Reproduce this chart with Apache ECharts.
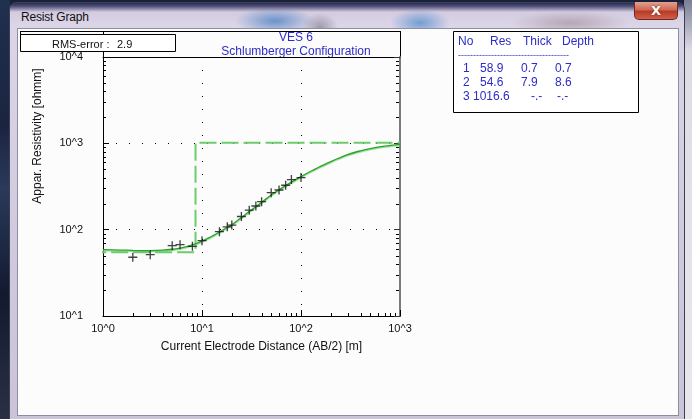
<!DOCTYPE html>
<html>
<head>
<meta charset="utf-8">
<script src="https://cdn.jsdelivr.net/npm/echarts@6/dist/echarts.min.js"></script>
<style>
  html, body { margin: 0; padding: 0; }
  body { width: 692px; height: 419px; overflow: hidden; position: relative;
         background: #18203a; font-family: "Liberation Sans", Arial, sans-serif; }
  #deskRight { position: absolute; left: 684px; top: 0; width: 8px; height: 419px;
               background: linear-gradient(#7a7f96, #dcdce4 12%, #e8e8ec); }
  #deskLeft { position: absolute; left: 0; top: 0; width: 10px; height: 419px;
              background: linear-gradient(#20304f, #1a2440 30%, #2a3a5a 45%, #121a30 70%, #2b2f45); }
  #win { position: absolute; left: 9px; top: 2px; width: 676px; height: 430px;
         border: 1px solid #3c3f52; border-radius: 7px 7px 0 0; box-sizing: border-box;
         background:
           radial-gradient(ellipse 40px 14px at 265px 18px, rgba(60,120,190,0.7), rgba(60,120,190,0) 100%),
           radial-gradient(ellipse 30px 14px at 410px 20px, rgba(60,130,200,0.65), rgba(60,130,200,0) 100%),
           radial-gradient(ellipse 60px 12px at 560px 20px, rgba(150,130,140,0.55), rgba(150,130,140,0) 100%),
           radial-gradient(ellipse 18px 14px at 310px 24px, rgba(90,80,100,0.45), rgba(90,80,100,0) 100%),
           linear-gradient(#2a2f52 0px, #4b4a74 3px, #d3cbe0 9px, #dcd5e7 22px, #d0c9dd 60%, #cbc4d8 100%); }
  #caption { position: absolute; left: 21px; top: 10px; font-size: 12px; color: #111;
             font-family: "Liberation Sans", Arial, sans-serif; letter-spacing: -0.2px; }
  #closeBtn { position: absolute; left: 634px; top: 2px; width: 44px; height: 18px;
              box-sizing: border-box; border: 1px solid #6e2a22; border-top: none;
              border-radius: 0 0 5px 5px;
              background: linear-gradient(#e4a090, #cf6a55 45%, #b93a25 55%, #d0604a);
              color: #fff; font: bold 13px "DejaVu Sans", sans-serif; text-align: center;
              line-height: 17px; text-shadow: 0 0 2px #5a1a12; }
  #client { position: absolute; left: 17px; top: 28px; width: 662px; height: 388px;
            box-sizing: border-box; border: 1px solid #8a8fa4; background: #fcfcfc; }
  #chart { position: absolute; left: 0; top: 0; width: 692px; height: 419px; }
</style>
</head>
<body>
<div id="deskLeft"></div>
<div id="deskRight"></div>
<div id="win"></div>
<div id="caption">Resist Graph</div>
<div id="closeBtn">X</div>
<div id="client"></div>
<div id="chart"></div>
<script>
// Sounding title and fit statistics
const soundingName = 'VES 6';
const arrayName = 'Schlumberger Configuration';
const rmsError = '2.9';

// Field measurements: half current-electrode spacing AB/2 [m] and apparent resistivity [ohmm]
const abHalf = [2, 3, 5, 6, 8, 10, 15, 18, 20, 25, 30, 35, 40, 50, 60, 70, 80, 100];
const rhoObserved = [47.9, 51.3, 65.3, 67.0, 64.2, 74.6, 94.8, 108, 113, 142, 168, 188, 211, 268, 288, 327, 380, 401];

// Calculated sounding curve of the fitted model
const calcAB = [1, 1.5, 2, 3, 4, 5, 6, 7, 8, 10, 12, 15, 20, 25, 30, 40, 50, 60, 80, 100, 130, 150, 200, 300, 400, 500, 700, 1000];
const calcRho = [58.8, 58.1, 57.6, 57.3, 57.8, 59.3, 61.3, 63.6, 66.5, 73.8, 81.5, 94, 114, 138, 162, 207, 252, 290, 355, 412, 485, 525, 615, 745, 820, 870, 930, 975];

// Layered model
const layerNo = ['1', '2', '3'];
const layerRes = [58.9, 54.6, 1016.6];
const layerThick = [0.7, 7.9];
const layerDepth = [0.7, 8.6];

// Axis ranges and tick labels
const xRange = [1, 1000];
const yRange = [10, 10000];
const xTickLabels = ['10^0', '10^1', '10^2', '10^3'];
const yTickLabels = ['10^1', '10^2', '10^3', '10^4'];
const minorMultipliers = [2, 3, 4, 5, 6, 7, 8, 9];

// Stair-step line of the layered model (first layer starts above the plotted range)
const modelLine = [[0.1, layerRes[0]]];
layerDepth.forEach((d, i) => {
  modelLine.push([d, layerRes[i]]);
  modelLine.push([d, layerRes[i + 1]]);
});
modelLine.push([xRange[1], layerRes[layerRes.length - 1]]);

// Minor log ticks for the frame
const minorX = [], minorY = [];
[1, 10, 100].forEach(dec => minorMultipliers.forEach(m => minorX.push(dec * m)));
[10, 100, 1000].forEach(dec => minorMultipliers.forEach(m => minorY.push(dec * m)));
const tickMarks = [];
minorX.forEach(v => tickMarks.push([v, yRange[0], 'b']));
minorY.forEach(v => { tickMarks.push([xRange[0], v, 'l']); tickMarks.push([xRange[1], v, 'r']); });

const fontFam = '"Liberation Sans", Arial, sans-serif';
const blue = '#2c2cc8';
const expLabel = (labels, base) => v => labels[Math.round(Math.log10(v) - Math.log10(base))];

const chart = echarts.init(document.getElementById('chart'), null, { renderer: 'canvas' });

const tableTexts = [];
const hdr = [['No', 458], ['Res', 490], ['Thick', 523], ['Depth', 562]];
hdr.forEach(([t, x]) => tableTexts.push({ type: 'text', left: x, top: 36, style: { text: t, fill: blue, font: '12px ' + fontFam } }));
tableTexts.push({ type: 'text', left: 458, top: 51, style: { text: '-------------------------------------', fill: blue, font: '9px ' + fontFam } });
const rowTop = [62, 76, 90];
layerNo.forEach((n, i) => {
  const resStr = layerRes[i].toFixed(1);
  const items = [
    [n, 463],
    [resStr, resStr.length > 4 ? 473 : 480],
    [i < layerThick.length ? layerThick[i].toFixed(1) : '-.-', i < layerThick.length ? 521 : 531],
    [i < layerDepth.length ? layerDepth[i].toFixed(1) : '-.-', i < layerDepth.length ? 555 : 557]
  ];
  items.forEach(([t, x]) => tableTexts.push({ type: 'text', left: x, top: rowTop[i] + 1, style: { text: t, fill: blue, font: '12px ' + fontFam } }));
});

chart.setOption({
  backgroundColor: 'transparent',
  animation: false,
  grid: { left: 103, right: 292, top: 57, bottom: 103, containLabel: false },
  xAxis: [{
    type: 'log', logBase: 10, min: xRange[0], max: xRange[1],
    name: 'Current Electrode Distance (AB/2) [m]', nameLocation: 'middle', nameGap: 25,
    nameTextStyle: { color: '#111', fontSize: 12, fontFamily: fontFam, padding: [0, 0, 0, 20] },
    axisLine: { show: true, lineStyle: { color: '#000', width: 1 } },
    axisTick: { show: true, inside: true, length: 6, lineStyle: { color: '#000' } },
    axisLabel: { show: true, color: '#111', fontSize: 11, fontFamily: fontFam, margin: 7,
                 showMinLabel: true, showMaxLabel: true, formatter: expLabel(xTickLabels, xRange[0]) },
    splitLine: { show: true, lineStyle: { color: '#000', width: 1, type: [1, 12] } }
  }, {
    type: 'log', logBase: 10, min: xRange[0], max: xRange[1], position: 'top',
    axisLine: { show: true, lineStyle: { color: '#000', width: 1 } },
    axisTick: { show: false }, axisLabel: { show: false }, splitLine: { show: false }
  }],
  yAxis: [{
    type: 'log', logBase: 10, min: yRange[0], max: yRange[1],
    axisLine: { show: true, lineStyle: { color: '#000', width: 1 } },
    axisTick: { show: true, inside: true, length: 6, lineStyle: { color: '#000' } },
    axisLabel: { show: true, color: '#111', fontSize: 11, fontFamily: fontFam, margin: 20,
                 showMinLabel: true, showMaxLabel: true, formatter: expLabel(yTickLabels, yRange[0]) },
    splitLine: { show: true, lineStyle: { color: '#000', width: 1, type: [1, 12] } }
  }, {
    type: 'log', logBase: 10, min: yRange[0], max: yRange[1], position: 'right',
    axisLine: { show: true, lineStyle: { color: '#7a7a7a', width: 2 } },
    axisTick: { show: true, inside: true, length: 6, lineStyle: { color: '#333' } },
    axisLabel: { show: false }, splitLine: { show: false }
  }],
  graphic: [
    // frame around the title strip
    { type: 'line', shape: { x1: 20, y1: 31.5, x2: 400, y2: 31.5 }, style: { stroke: '#000', lineWidth: 1 } },
    { type: 'line', shape: { x1: 20.5, y1: 31, x2: 20.5, y2: 35 }, style: { stroke: '#000', lineWidth: 1 } },
    { type: 'line', shape: { x1: 103.5, y1: 31, x2: 103.5, y2: 57 }, style: { stroke: '#000', lineWidth: 1 } },
    { type: 'line', shape: { x1: 400.5, y1: 31, x2: 400.5, y2: 57 }, style: { stroke: '#000', lineWidth: 1 } },
    // RMS box
    { type: 'rect', shape: { x: 20.5, y: 34.5, width: 155, height: 17 }, style: { fill: '#fff', stroke: '#000', lineWidth: 1 } },
    { type: 'text', left: 52, top: 39, style: { text: 'RMS-error :', fill: '#111', font: '11px ' + fontFam } },
    { type: 'text', left: 117, top: 39, style: { text: rmsError, fill: '#111', font: '11px ' + fontFam } },
    // title
    { type: 'text', x: 296, y: 38, style: { text: soundingName, fill: blue, font: '12px ' + fontFam, align: 'center', verticalAlign: 'middle' } },
    { type: 'text', x: 296, y: 52, style: { text: arrayName, fill: blue, font: '12px ' + fontFam, align: 'center', verticalAlign: 'middle' } },
    // vertical axis name
    { type: 'text', x: 38, y: 136, rotation: Math.PI / 2,
      style: { text: 'Appar. Resistivity [ohmm]', fill: '#111', font: '12px ' + fontFam, align: 'center', verticalAlign: 'middle' } },
    // layer table
    { type: 'rect', shape: { x: 453.5, y: 31.5, width: 185, height: 81 }, style: { fill: '#fff', stroke: '#000', lineWidth: 1 } }
  ].concat(tableTexts),
  series: [
    {
      name: 'ticks', type: 'custom', silent: true, clip: false, z: 1,
      data: tickMarks,
      renderItem: (params, api) => {
        const side = tickMarks[params.dataIndex][2];
        const p = api.coord([api.value(0), api.value(1)]);
        const len = 3;
        let shape;
        if (side === 'b') shape = { x1: Math.round(p[0]) + 0.5, y1: p[1], x2: Math.round(p[0]) + 0.5, y2: p[1] - len };
        else if (side === 'l') shape = { x1: p[0], y1: Math.round(p[1]) + 0.5, x2: p[0] + len, y2: Math.round(p[1]) + 0.5 };
        else shape = { x1: p[0] - 1, y1: Math.round(p[1]) + 0.5, x2: p[0] - 1 - len, y2: Math.round(p[1]) + 0.5 };
        return { type: 'line', shape, style: { stroke: '#000', lineWidth: 1 } };
      }
    },
    {
      name: 'Model', type: 'line', data: modelLine, showSymbol: false, clip: true, z: 2,
      lineStyle: { color: '#6ccc6c', width: 2, type: [17, 5] }
    },
    {
      name: 'Calculated', type: 'line', data: calcAB.map((x, i) => [x, calcRho[i]]),
      showSymbol: false, smooth: 0.3, clip: true, z: 3,
      lineStyle: { color: '#2ba42b', width: 1.3, shadowColor: 'rgba(110,205,110,0.85)', shadowBlur: 1, shadowOffsetY: 1 }
    },
    {
      name: 'Observed', type: 'scatter', data: abHalf.map((x, i) => [x, rhoObserved[i]]), z: 4,
      symbol: 'path://M0,5L10,5M5,0L5,10', symbolSize: 9,
      itemStyle: { color: 'rgba(0,0,0,0)', borderColor: '#111', borderWidth: 1.3 }
    }
  ]
});
</script>
</body>
</html>
